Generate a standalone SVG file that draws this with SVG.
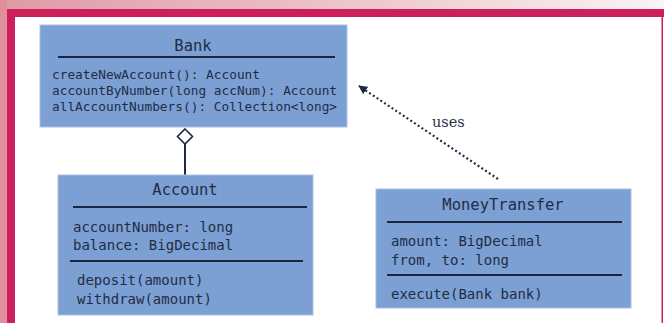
<svg xmlns="http://www.w3.org/2000/svg" width="664" height="323" viewBox="0 0 664 323">
  <defs>
    <linearGradient id="topFade" x1="0" y1="0" x2="1" y2="0">
      <stop offset="0" stop-color="#df9aa4"/>
      <stop offset="0.5" stop-color="#ecc3c8"/>
      <stop offset="1" stop-color="#fbf3f4"/>
    </linearGradient>
    <marker id="arrowHead" viewBox="0 0 10 10" refX="9" refY="5" markerWidth="9" markerHeight="9" orient="auto" markerUnits="userSpaceOnUse">
      <path d="M0,0 L10,5 L0,10 z" fill="#1e2a40"/>
    </marker>
    <style>
      .box { fill: #7c9fd4; stroke: #a9c0e4; stroke-width: 1; }
      .rule { stroke: #1a2640; stroke-width: 2; }
      .title { font-family: "DejaVu Sans Mono", "Liberation Mono", monospace; font-size: 15.5px; fill: #222d44; text-anchor: middle; }
      .member { font-family: "DejaVu Sans Mono", "Liberation Mono", monospace; font-size: 14px; fill: #222d44; }
      .small { font-size: 12.8px; }
      .label { font-family: "DejaVu Serif", "Liberation Serif", serif; font-size: 14.5px; fill: #2a3344; }
      .conn { stroke: #1e2a40; fill: none; }
    </style>
  </defs>

  <!-- page background and frame -->
  <rect x="0" y="0" width="664" height="323" fill="#ffffff"/>
  <rect x="0" y="0" width="664" height="10" fill="url(#topFade)"/>
  <rect x="0" y="0" width="7" height="323" fill="#df909b"/>
  <rect x="7" y="9" width="657" height="8" fill="#cc1f5c"/>
  <rect x="7" y="9" width="8" height="314" fill="#cc1f5c"/>
  <rect x="661.5" y="9" width="1.5" height="314" fill="#cc1f5c"/>

  <!-- connectors -->
  <g id="connectors">
    <line class="conn" x1="185" y1="144" x2="185" y2="175" stroke-width="2"/>
    <path d="M185,129 L192.5,136.5 L185,144 L177.5,136.5 Z" fill="#ffffff" stroke="#1e2a40" stroke-width="1.6"/>
    <line class="conn" x1="498" y1="179" x2="359" y2="86" stroke-width="2.2" stroke-dasharray="2,2.5" marker-end="url(#arrowHead)"/>
    <text class="label" x="432" y="127">uses</text>
  </g>

  <!-- Bank class -->
  <g id="bank">
    <rect class="box" x="40" y="25" width="307" height="102"/>
    <text class="title" x="193" y="51">Bank</text>
    <line class="rule" x1="58" y1="57" x2="335" y2="57"/>
    <text class="member small" x="52" y="79">createNewAccount(): Account</text>
    <text class="member small" x="52" y="95">accountByNumber(long accNum): Account</text>
    <text class="member small" x="52" y="111">allAccountNumbers(): Collection&lt;long&gt;</text>
  </g>

  <!-- Account class -->
  <g id="account">
    <rect class="box" x="58" y="175" width="255" height="140"/>
    <text class="title" x="185" y="195">Account</text>
    <line class="rule" x1="73" y1="207" x2="307" y2="207"/>
    <text class="member" x="73" y="232">accountNumber: long</text>
    <text class="member" x="73" y="250">balance: BigDecimal</text>
    <line class="rule" x1="70" y1="261" x2="303" y2="261"/>
    <text class="member" x="77" y="285">deposit(amount)</text>
    <text class="member" x="77" y="304">withdraw(amount)</text>
  </g>

  <!-- MoneyTransfer class -->
  <g id="moneyTransfer">
    <rect class="box" x="376" y="189" width="255" height="119"/>
    <text class="title" x="503" y="210">MoneyTransfer</text>
    <line class="rule" x1="387" y1="222" x2="622" y2="222"/>
    <text class="member" x="391" y="246">amount: BigDecimal</text>
    <text class="member" x="391" y="265">from, to: long</text>
    <line class="rule" x1="387" y1="275" x2="622" y2="275"/>
    <text class="member" x="391" y="299">execute(Bank bank)</text>
  </g>
</svg>
